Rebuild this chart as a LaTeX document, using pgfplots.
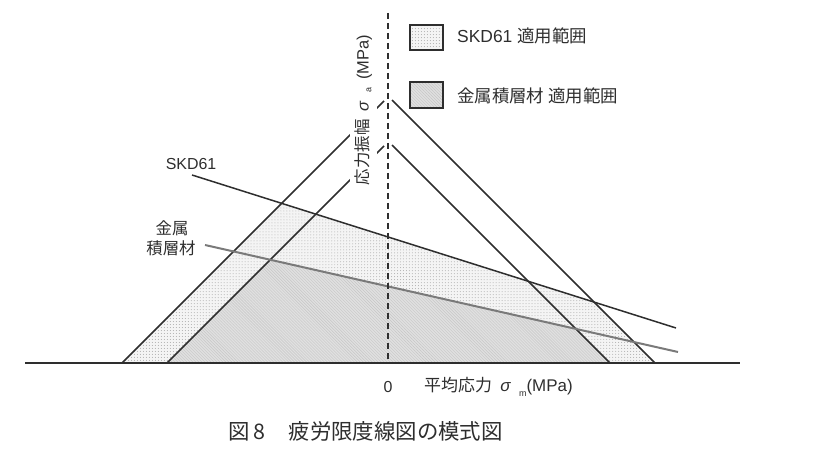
\documentclass[border=0pt]{standalone}
\usepackage{pgfplots}
\pgfplotsset{compat=1.18}
\usepackage{fontspec}
\setmainfont{Liberation Sans}
\newfontfamily\cjk{Noto Sans CJK JP}
\usetikzlibrary{patterns}
\definecolor{ln}{HTML}{2E2E2E}
\definecolor{lam}{HTML}{7A7A7A}
\begin{document}
\begin{tikzpicture}
\begin{axis}[
  width=838bp, height=465bp, scale only axis,
  xmin=0, xmax=838, ymin=0, ymax=465,
  hide axis, clip=false,
]
\path (axis cs:0,0) rectangle (axis cs:838,465);
% SKD61 region
\addplot[draw=none, fill=gray!9, postaction={pattern=dots, pattern color=gray!65}]
  coordinates {(122,102) (281.7,261.7) (594.1,162.9) (655,102)} --cycle;
% laminate region
\addplot[draw=none, fill=gray!24, postaction={pattern=north west lines, pattern color=gray!45}]
  coordinates {(167,102) (270.3,205.3) (575.9,136.1) (610,102)} --cycle;
% base line
\addplot[ln, line width=1.8bp] coordinates {(25,102) (740,102)};
% yield lines
\addplot[ln, line width=1.5bp] coordinates {(122,102) (384,364)};
\addplot[ln, line width=1.5bp] coordinates {(392,365) (655,102)};
\addplot[ln, line width=1.5bp] coordinates {(167,102) (384,319)};
\addplot[ln, line width=1.5bp] coordinates {(392,320) (610,102)};
% Goodman lines
\addplot[ln, line width=1.5bp] coordinates {(192,290) (676,137)};
\addplot[lam, line width=2bp] coordinates {(205,220) (678,113)};
% dashed axis
\addplot[ln, line width=1.8bp, dash pattern=on 6bp off 4bp] coordinates {(388,452) (388,102)};
% y label
\node[rotate=90, fill=white, inner xsep=5bp, inner ysep=5bp, font=\fontsize{16.5}{19}\selectfont, text=ln] at (axis cs:363.5,355)
  {{\cjk 応力振幅}\enspace{\itshape σ}\enspace\raisebox{-0.3ex}{\fontsize{9}{10}\selectfont a}\enspace(MPa)};
% legend boxes
\addplot[ln, line width=1.2bp, fill=gray!9, postaction={pattern=dots, pattern color=gray!65}]
  coordinates {(410,440) (443,440) (443,415) (410,415)} --cycle;
\addplot[ln, line width=1.2bp, fill=gray!24, postaction={pattern=north west lines, pattern color=gray!45}]
  coordinates {(410,383) (443,383) (443,357) (410,357)} --cycle;
\node[anchor=west, inner sep=0pt, font=\fontsize{17.5}{20}\selectfont, text=ln] at (axis cs:457,429) {SKD61 {\cjk 適用範囲}};
\node[anchor=west, inner sep=0pt, font=\fontsize{17.5}{20}\selectfont\cjk, text=ln] at (axis cs:457,369) {金属積層材 適用範囲};
% labels
\node[inner sep=0pt, font=\fontsize{16}{19}\selectfont, text=ln] at (axis cs:191,301) {SKD61};
\node[inner sep=0pt, font=\fontsize{16.5}{19}\selectfont\cjk, text=ln] at (axis cs:172,237) {金属};
\node[inner sep=0pt, font=\fontsize{16.5}{19}\selectfont\cjk, text=ln] at (axis cs:171,217) {積層材};
\node[inner sep=0pt, font=\fontsize{16}{18}\selectfont, text=ln] at (axis cs:388,78) {0};
\node[anchor=west, inner sep=0pt, font=\fontsize{17}{20}\selectfont, text=ln] at (axis cs:424,78)
  {{\cjk 平均応力}\enspace{\itshape σ}\enspace\raisebox{-0.5ex}{\fontsize{9}{10}\selectfont m}(MPa)};
\node[anchor=west, inner sep=0pt, font=\fontsize{21.5}{24}\selectfont\cjk, text=ln] at (axis cs:228,34)
  {図\,8\hspace{1.1em}疲労限度線図の模式図};
\end{axis}
\end{tikzpicture}
\end{document}
